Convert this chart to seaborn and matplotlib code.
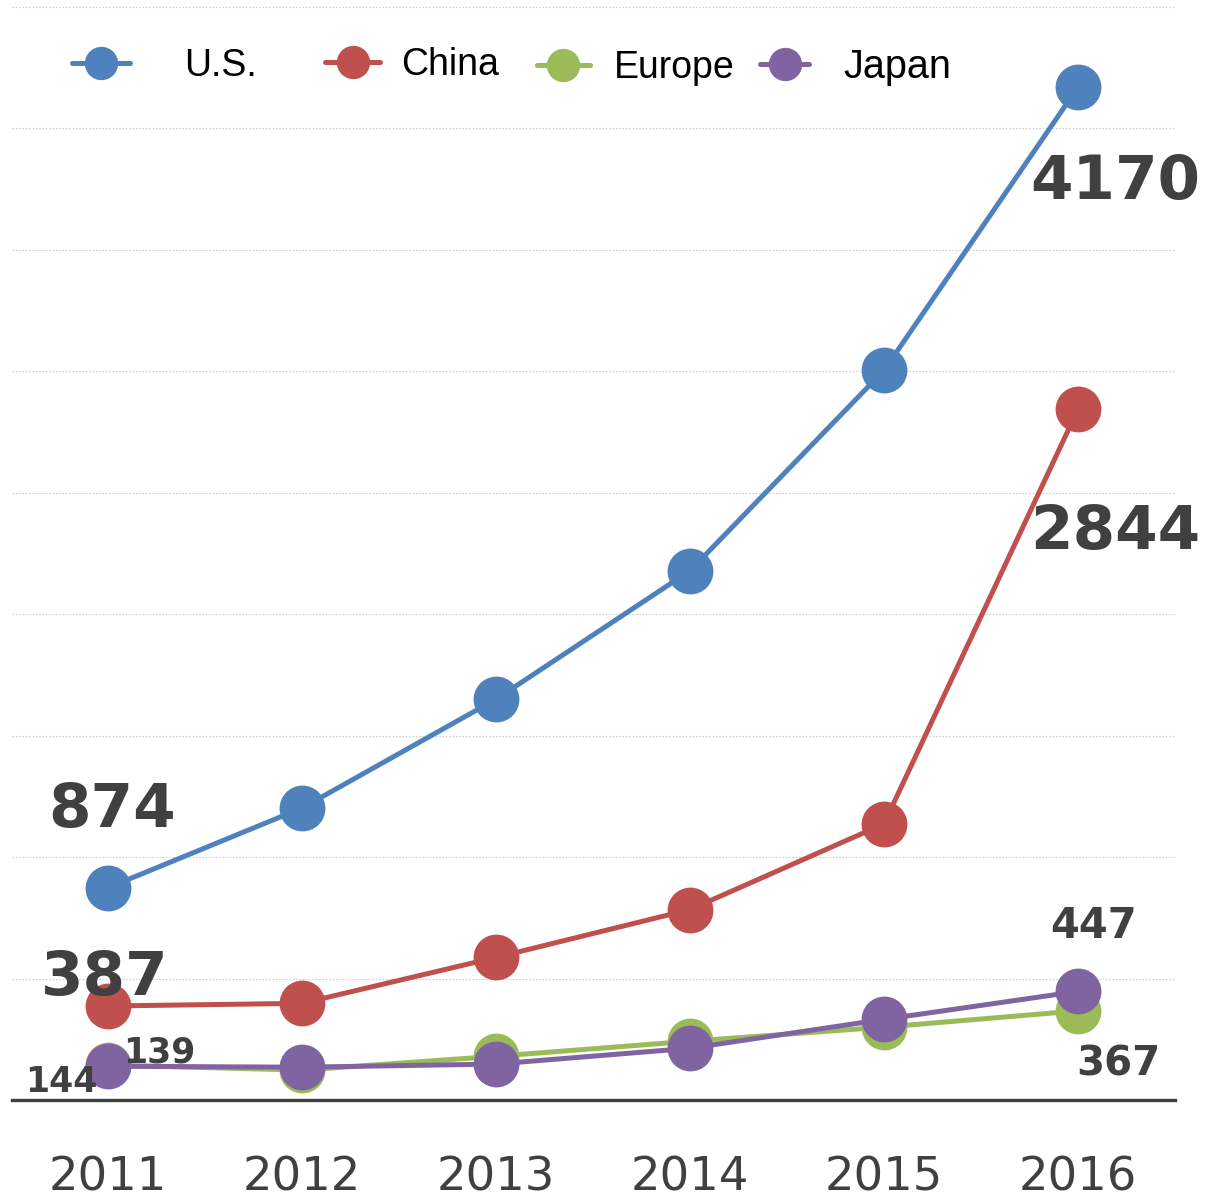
import matplotlib
matplotlib.use("Agg")
import matplotlib.pyplot as plt
from matplotlib.lines import Line2D
import seaborn as sns
import pandas as pd

years = ["2011", "2012", "2013", "2014", "2015", "2016"]
series_names = ["U.S.", "China", "Europe", "Japan"]
us = [874, 1202, 1650, 2179, 3004, 4170]
china = [387, 398, 587, 784, 1137, 2844]
europe = [144, 123, 180, 242, 300, 367]
japan = [139, 135, 148, 213, 332, 447]
colors = ["#4F81BD", "#C0504D", "#9BBB59", "#8064A2"]

values = [us, china, europe, japan]
rows = []
for name, vals in zip(series_names, values):
    for i, v in enumerate(vals):
        rows.append({"series": name, "x": i, "value": v})
df = pd.DataFrame(rows)

sns.set_theme(style="white")
plt.rcParams["font.family"] = ["DejaVu Sans"]

fig = plt.figure(figsize=(12.05, 12.03), dpi=100)
ax = fig.add_axes([12 / 1205, 1 - 1100 / 1203, (1175 - 12) / 1205, (1100 - 7) / 1203])

sns.lineplot(data=df, x="x", y="value", hue="series", hue_order=series_names,
             palette=colors, marker="o", markersize=33, linewidth=3.6,
             markeredgewidth=0, legend=False, ax=ax, zorder=3)

ax.set_xlim(-0.495, 5.5)
ax.set_ylim(0, 4500)
ax.set_yticks(range(0, 4501, 500))
ax.set_yticklabels([])
ax.yaxis.grid(True, color="#cfcfcf", linestyle=(0, (1.5, 1.5)), linewidth=0.8)
ax.xaxis.grid(False)
ax.set_xticks(range(len(years)))
ax.set_xticklabels(years, fontsize=33.5, color="#404040")
ax.tick_params(axis="x", length=0, pad=40)
ax.tick_params(axis="y", length=0)
ax.set_xlabel("")
ax.set_ylabel("")
for s in ["top", "right", "left"]:
    ax.spines[s].set_visible(False)
ax.spines["bottom"].set_color("#404040")
ax.spines["bottom"].set_linewidth(2.4)
ax.spines["bottom"].set_zorder(5)

# data labels: (series index, point index, fontsize, dx px, dy px)
labels = [
    (0, 0, 44, 4, 77),
    (0, 5, 44, 37, -95),
    (1, 0, 44, -3, 28),
    (1, 5, 44, 37, -123),
    (2, 0, 25, -47, -17),
    (3, 0, 25, 51, 14),
    (3, 5, 30, 16, 65),
    (2, 5, 29, 40, -54),
]
for si, pi, fs, dx, dy in labels:
    v = values[si][pi]
    ax.annotate(str(v), xy=(pi, v), xytext=(dx, dy), textcoords="offset pixels",
                ha="center", va="center", fontsize=fs, fontweight="bold",
                color="#404040", zorder=6)

# legend: one entry per legend box to follow the reference's irregular spacing
# (left px, centre y px, handlelength, handletextpad, fontsize)
leg_layout = [
    (72, 66, 1.55, 1.45, 27),
    (325, 65, 1.47, 0.55, 27),
    (537, 68, 1.41, 0.65, 27),
    (760, 67, 1.25, 0.85, 28.5),
]
for name, c, (lx, ly, hl, htp, fs) in zip(series_names, colors, leg_layout):
    h = Line2D([0], [0], color=c, marker="o", markersize=24, linewidth=3.6,
               markeredgewidth=0)
    leg = ax.legend([h], [name], loc="center left",
                    bbox_to_anchor=(lx / 1205, 1 - ly / 1203),
                    bbox_transform=fig.transFigure, frameon=False, borderpad=0,
                    borderaxespad=0, handlelength=hl, handletextpad=htp,
                    labelcolor="black",
                    prop={"family": "Liberation Sans", "size": fs})
    ax.add_artist(leg)
ax.legend_ = None

fig.savefig("out.png", dpi=100)
